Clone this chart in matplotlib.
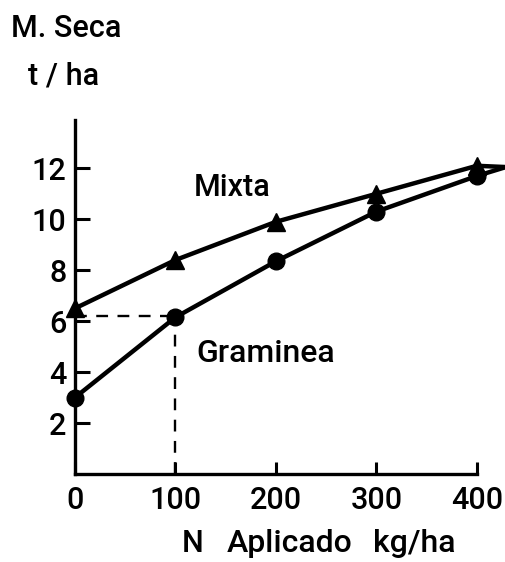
import numpy as np
import matplotlib.pyplot as plt

# N applied (kg/ha) and dry matter (t/ha)
n_aplicado = [0, 100, 200, 300, 400]
mixta = [6.5, 8.4, 9.9, 11.0, 12.1]
graminea = [3.0, 6.15, 8.35, 10.3, 11.7]
# curves run on a little past the last point
n_fin = 429
fin_mixta = 12.05
fin_graminea = 12.05
dash_y = 6.2

xticks = [0, 100, 200, 300, 400]
yticks = [2, 4, 6, 8, 10, 12]

plt.rcParams['font.family'] = ['Roboto', 'DejaVu Sans']
plt.rcParams['font.weight'] = 'medium'
fs = 22

fig = plt.figure(figsize=(5.06, 5.62), dpi=100)
ax = fig.add_axes([0.148, 0.1566, 0.852, 0.630])

ax.plot(n_aplicado + [n_fin], mixta + [fin_mixta], color='black', lw=3.2,
        solid_capstyle='butt', clip_on=False)
ax.plot(n_aplicado + [n_fin], graminea + [fin_graminea], color='black', lw=3.2,
        solid_capstyle='butt', clip_on=False)
ax.plot(n_aplicado, mixta, ls='none', marker='^', ms=13, color='black', clip_on=False)
ax.plot(n_aplicado, graminea, ls='none', marker='o', ms=12, color='black', clip_on=False)

# dashed guide lines at 100 kg/ha
ax.plot([0, 100], [dash_y, dash_y], color='black', lw=1.7, ls=(0, (5, 4)))
ax.plot([100, 100], [0, dash_y], color='black', lw=1.7, ls=(0, (5, 4)))

ax.set_xlim(0, n_fin)
ax.set_ylim(0, 13.9)
ax.spines['top'].set_visible(False)
ax.spines['right'].set_visible(False)
ax.spines['left'].set_linewidth(2.4)
ax.spines['bottom'].set_linewidth(2.4)
ax.spines['bottom'].set_bounds(0, 400)

ax.set_xticks(xticks)
ax.set_yticks(yticks)
ax.tick_params(axis='both', direction='in', width=2.2, labelsize=fs, color='black')
ax.tick_params(axis='y', length=11, pad=6)
ax.tick_params(axis='x', length=9, pad=9)

ax.text(118, 10.9, 'Mixta', fontsize=fs, va='baseline')
ax.text(121, 4.4, 'Graminea', fontsize=fs + 1, va='baseline')

fig.text(0.022, 0.934, 'M. Seca', fontsize=fs, va='baseline')
fig.text(0.055, 0.849, 't / ha', fontsize=fs, va='baseline')
# x axis title, spaced out as in the original
fig.text(0.360, 0.018, 'N', fontsize=fs, va='baseline')
fig.text(0.449, 0.018, 'Aplicado', fontsize=fs + 1, va='baseline')
fig.text(0.738, 0.018, 'kg/ha', fontsize=fs + 1, va='baseline')

fig.savefig('out.png', dpi=100)
